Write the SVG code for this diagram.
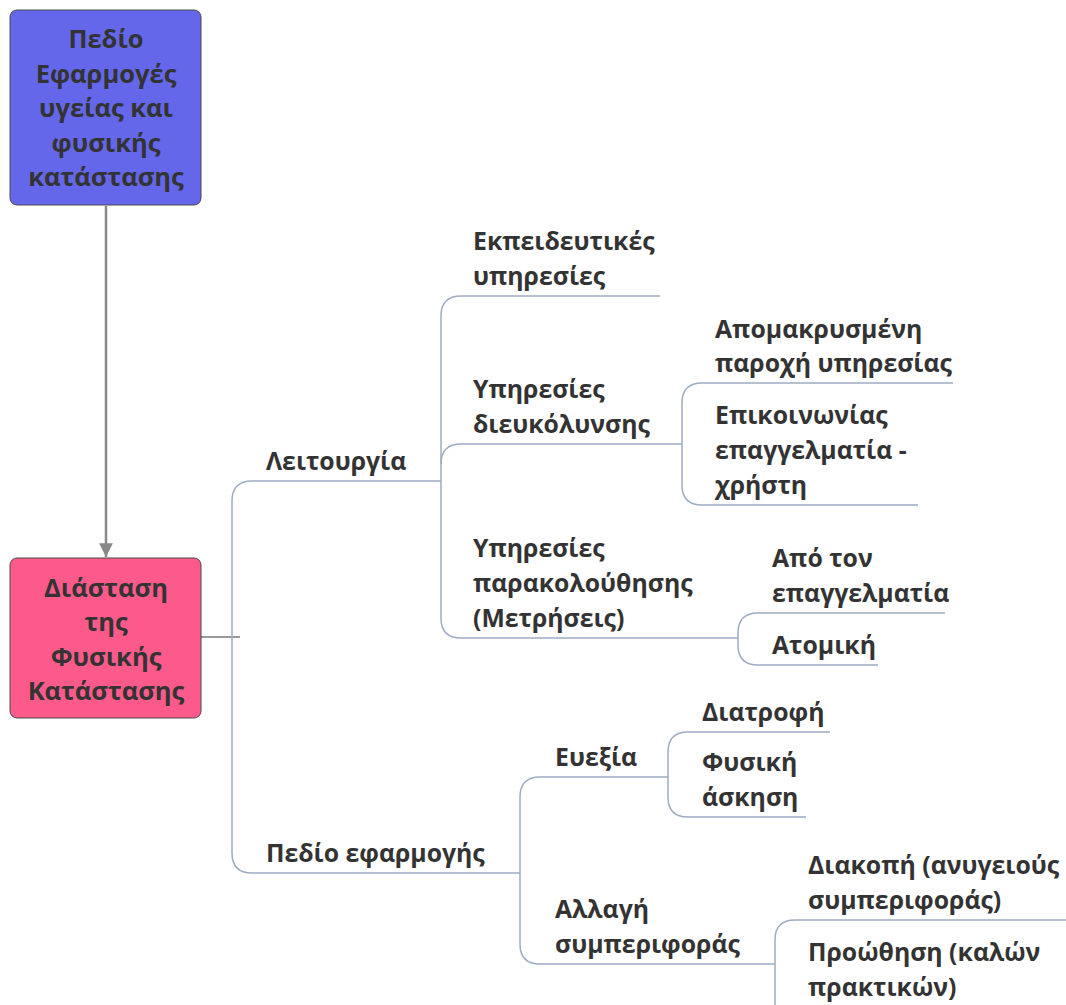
<svg xmlns="http://www.w3.org/2000/svg" width="1066" height="1005" viewBox="0 0 1066 1005">
  <defs>
    <style>
      .t { font-family: "Open Sans", "DejaVu Sans", sans-serif; font-weight: 700; font-size: 24.8px; fill: #333333; }
      .tc { text-anchor: middle; font-size: 25.5px; }
      .ul { stroke: #9dacc2; stroke-width: 1.5; fill: none; }
      .br { stroke: #9dacc2; stroke-width: 1.5; fill: none; }
      .box { stroke: #4a4a4a; stroke-width: 1; }
    </style>
    <marker id="arrow" viewBox="0 0 10 10" refX="10" refY="5" markerWidth="5.5" markerHeight="5.5" orient="auto" markerUnits="strokeWidth">
      <path d="M0,0 L10,5 L0,10 z" fill="#888888"/>
    </marker>
  </defs>
  <rect width="1066" height="1005" fill="#ffffff"/>

  <!-- branch brackets and links -->
  <g id="connectors">
    <line x1="106" y1="206" x2="106" y2="557" stroke="#888888" stroke-width="2.5" marker-end="url(#arrow)"/>
    <line x1="201" y1="637" x2="240" y2="637" stroke="#333333" stroke-width="1"/>
    <!-- root bracket -->
    <path class="br" d="M252,481 Q232,481 232,501 L232,853 Q232,873 252,873"/>
    <!-- Λειτουργία bracket -->
    <path class="br" d="M461,296 Q441,296 441,316 L441,618 Q441,638 461,638"/>
    <path class="br" d="M441,464 Q441,444 461,444"/>
    <!-- διευκόλυνσης bracket -->
    <path class="br" d="M702,383 Q682,383 682,403 L682,485 Q682,505 702,505"/>
    <!-- παρακολούθησης bracket -->
    <path class="br" d="M758,613 Q738,613 738,633 L738,645 Q738,665 758,665"/>
    <!-- Πεδίο εφαρμογής bracket -->
    <path class="br" d="M540,777 Q520,777 520,797 L520,944 Q520,964 540,964"/>
    <!-- Ευεξία bracket -->
    <path class="br" d="M688,732 Q668,732 668,752 L668,797 Q668,817 688,817"/>
    <!-- Αλλαγή bracket -->
    <path class="br" d="M795,920 Q775,920 775,940 L775,1010"/>
  </g>

  <g id="node-pedio-top">
    <rect class="box" x="10" y="10" width="191" height="195" rx="7" fill="#6467ea"/>
    <text class="t tc" x="106" y="48">Πεδίο</text>
    <text class="t tc" x="106" y="83">Εφαρμογές</text>
    <text class="t tc" x="106" y="117">υγείας και</text>
    <text class="t tc" x="106" y="152">φυσικής</text>
    <text class="t tc" x="106" y="186">κατάστασης</text>
  </g>

  <g id="node-diastasi">
    <rect class="box" x="10" y="558" width="191" height="160" rx="7" fill="#fd5a8c"/>
    <text class="t tc" x="106" y="597">Διάσταση</text>
    <text class="t tc" x="106" y="631">της</text>
    <text class="t tc" x="106" y="666">Φυσικής</text>
    <text class="t tc" x="106" y="700">Κατάστασης</text>
  </g>

  <g id="node-leitourgia">
    <text class="t" x="266" y="470">Λειτουργία</text>
    <line class="ul" x1="252" y1="481" x2="441" y2="481"/>
  </g>

  <g id="node-pedio-efarmogis">
    <text class="t" x="266" y="862">Πεδίο εφαρμογής</text>
    <line class="ul" x1="252" y1="873" x2="520" y2="873"/>
  </g>

  <g id="node-ekpaideftikes">
    <text class="t" x="473" y="250">Εκπειδευτικές</text>
    <text class="t" x="473" y="285">υπηρεσίες</text>
    <line class="ul" x1="461" y1="296" x2="660" y2="296"/>
  </g>

  <g id="node-dieukolynsis">
    <text class="t" x="473" y="398">Υπηρεσίες</text>
    <text class="t" x="473" y="433">διευκόλυνσης</text>
    <line class="ul" x1="461" y1="444" x2="682" y2="444"/>
  </g>

  <g id="node-parakolouthisis">
    <text class="t" x="473" y="557">Υπηρεσίες</text>
    <text class="t" x="473" y="592">παρακολούθησης</text>
    <text class="t" x="473" y="627">(Μετρήσεις)</text>
    <line class="ul" x1="461" y1="638" x2="738" y2="638"/>
  </g>

  <g id="node-apomakrysmeni">
    <text class="t" x="715" y="338">Απομακρυσμένη</text>
    <text class="t" x="715" y="372">παροχή υπηρεσίας</text>
    <line class="ul" x1="702" y1="383" x2="953" y2="383"/>
  </g>

  <g id="node-epikoinonias">
    <text class="t" x="715" y="424">Επικοινωνίας</text>
    <text class="t" x="715" y="459">επαγγελματία -</text>
    <text class="t" x="715" y="494">χρήστη</text>
    <line class="ul" x1="702" y1="505" x2="918" y2="505"/>
  </g>

  <g id="node-apo-ton">
    <text class="t" x="772" y="567">Από τον</text>
    <text class="t" x="772" y="602">επαγγελματία</text>
    <line class="ul" x1="758" y1="613" x2="945" y2="613"/>
  </g>

  <g id="node-atomiki">
    <text class="t" x="772" y="654">Ατομική</text>
    <line class="ul" x1="758" y1="665" x2="878" y2="665"/>
  </g>

  <g id="node-euexia">
    <text class="t" x="555" y="766">Ευεξία</text>
    <line class="ul" x1="540" y1="777" x2="668" y2="777"/>
  </g>

  <g id="node-allagi">
    <text class="t" x="555" y="918">Αλλαγή</text>
    <text class="t" x="555" y="953">συμπεριφοράς</text>
    <line class="ul" x1="540" y1="964" x2="775" y2="964"/>
  </g>

  <g id="node-diatrofi">
    <text class="t" x="702" y="721">Διατροφή</text>
    <line class="ul" x1="688" y1="732" x2="830" y2="732"/>
  </g>

  <g id="node-fysiki-askisi">
    <text class="t" x="702" y="771">Φυσική</text>
    <text class="t" x="702" y="806">άσκηση</text>
    <line class="ul" x1="688" y1="817" x2="806" y2="817"/>
  </g>

  <g id="node-diakopi">
    <text class="t" x="808" y="874">Διακοπή (ανυγειούς</text>
    <text class="t" x="808" y="909">συμπεριφοράς)</text>
    <line class="ul" x1="795" y1="920" x2="1066" y2="920"/>
  </g>

  <g id="node-proothisi">
    <text class="t" x="808" y="961">Προώθηση (καλών</text>
    <text class="t" x="808" y="996">πρακτικών)</text>
  </g>
</svg>
